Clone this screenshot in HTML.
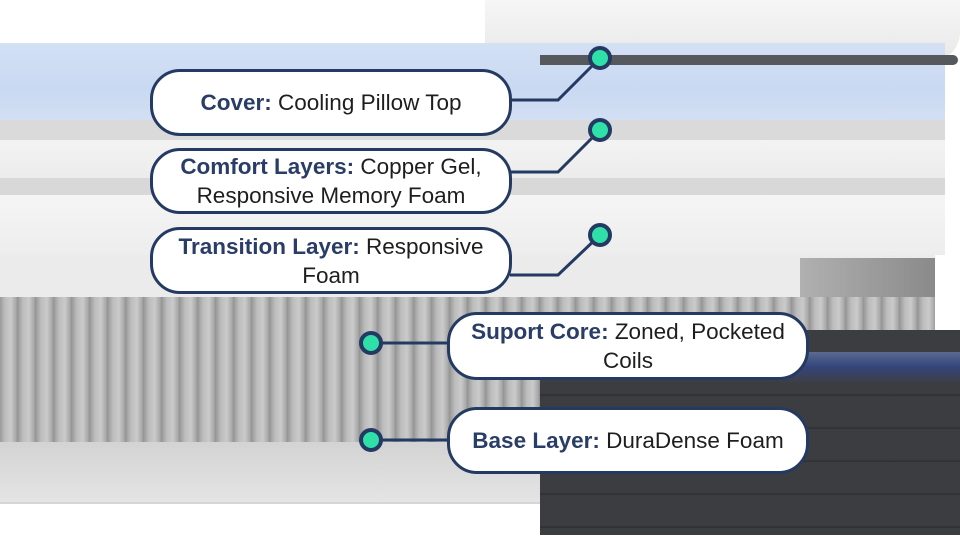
<!DOCTYPE html>
<html><head><style>
body{margin:0;width:960px;height:540px;overflow:hidden;background:#fff;font-family:"Liberation Sans",sans-serif;position:relative}
div{position:absolute;box-sizing:border-box}
.box{background:#fff;border:3px solid #243a62;border-radius:30px;display:flex;align-items:center;justify-content:center;text-align:center;font-size:22.5px;line-height:29px;color:#1e1e1e;white-space:nowrap}
.box b{color:#2a3d66}
</style></head><body>
<!-- pillow top -->
<div style="left:485px;top:0;width:475px;height:62px;background:linear-gradient(#f6f6f6,#e8e8e8);border-radius:0 0 30px 0"></div>
<!-- cover blue -->
<div style="left:0;top:43px;width:945px;height:78px;background:linear-gradient(#d3e0f5,#c9d9f2 60%,#d3dff3);"></div>
<div style="left:540px;top:55px;width:418px;height:10px;background:#55585d;border-radius:0 5px 5px 0"></div>
<div style="left:0;top:120px;width:945px;height:20px;background:#dadada"></div>
<!-- comfort -->
<div style="left:0;top:140px;width:945px;height:38px;background:linear-gradient(#f3f3f3,#ececec)"></div>
<div style="left:0;top:178px;width:945px;height:17px;background:#d8d8d8"></div>
<!-- transition -->
<div style="left:0;top:195px;width:945px;height:60px;background:linear-gradient(#f5f5f5,#ededed)"></div>
<!-- knit -->
<div style="left:0;top:255px;width:935px;height:42px;background:#ebebeb"></div>
<div style="left:800px;top:258px;width:135px;height:40px;background:linear-gradient(90deg,#b0b0b0,#8a8a8a)"></div>
<!-- coils -->
<div style="left:0;top:297px;width:935px;height:145px;background:repeating-linear-gradient(90deg,#9a9a9a 0,#bdbdbd 5px,#cacaca 11px,#a8a8a8 16px,#909090 18px);"></div>
<!-- dark base -->
<div style="left:540px;top:330px;width:420px;height:205px;background:repeating-linear-gradient(#3c3d41 0,#3c3d41 30px,#2e2f33 33px);"></div>
<div style="left:540px;top:352px;width:420px;height:30px;background:linear-gradient(#5a6a90,#34447a 50%,#3c3f48)"></div>
<!-- light base -->
<div style="left:0;top:442px;width:540px;height:60px;background:linear-gradient(#d3d3d3,#e4e4e4)"></div>
<div style="left:0;top:502px;width:540px;height:2px;background:#d6d6d6"></div>
<svg width="960" height="540" style="position:absolute;left:0;top:0">
<g stroke="#243a62" stroke-width="3" fill="none">
<polyline points="510,100 558,100 600,58"/>
<polyline points="510,172 558,172 600,130"/>
<polyline points="510,275 558,275 600,235"/>
<line x1="371" y1="343" x2="450" y2="343"/>
<line x1="371" y1="440" x2="450" y2="440"/>
</g>
<g fill="#2fe0a8" stroke="#243a62" stroke-width="4">
<circle cx="600" cy="58" r="10"/><circle cx="600" cy="130" r="10"/><circle cx="600" cy="235" r="10"/>
<circle cx="371" cy="343" r="10"/><circle cx="371" cy="440" r="10"/>
</g>
</svg>
<div class="box" style="left:150px;top:69px;width:362px;height:67px"><span><b>Cover:</b> Cooling Pillow Top</span></div>
<div class="box" style="left:150px;top:148px;width:362px;height:66px"><span><b>Comfort Layers:</b> Copper Gel,<br>Responsive Memory Foam</span></div>
<div class="box" style="left:150px;top:227px;width:362px;height:67px"><span><b>Transition Layer:</b> Responsive<br>Foam</span></div>
<div class="box" style="left:447px;top:312px;width:362px;height:68px"><span><b>Suport Core:</b> Zoned, Pocketed<br>Coils</span></div>
<div class="box" style="left:447px;top:407px;width:362px;height:67px"><span><b>Base Layer:</b> DuraDense Foam</span></div>
</body></html>
